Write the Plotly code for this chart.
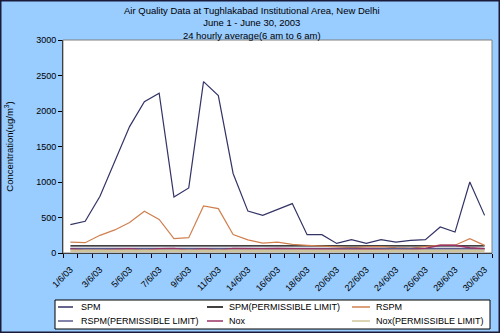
import plotly.graph_objects as go

dates = ["1/6/03", "2/6/03", "3/6/03", "4/6/03", "5/6/03", "6/6/03", "7/6/03", "8/6/03",
         "9/6/03", "10/6/03", "11/6/03", "13/6/03", "14/6/03", "15/6/03", "16/6/03",
         "17/6/03", "18/6/03", "19/6/03", "20/6/03", "21/6/03", "22/6/03", "23/6/03",
         "24/6/03", "25/6/03", "26/6/03", "27/6/03", "28/6/03", "29/6/03", "30/6/03"]

spm = [400, 446, 800, 1300, 1780, 2130, 2250, 790, 917, 2414, 2217, 1120, 590, 530, 616,
       696, 258, 258, 135, 188, 135, 188, 154, 178, 188, 366, 295, 1000, 530]
spm_limit = [100] * 29
rspm = [154, 145, 249, 325, 430, 588, 472, 202, 216, 663, 625, 260, 185, 140, 154,
        121, 107, 95, 80, 75, 85, 90, 75, 70, 90, 110, 110, 202, 107]
rspm_limit = [60] * 29
nox = [60, 40, 40, 55, 60, 40, 60, 65, 40, 60, 40, 65, 60, 60, 65, 60, 55, 50, 45, 50,
       55, 45, 40, 45, 65, 110, 110, 75, 60]
nox_limit = [30] * 29

tick_idx = list(range(0, 29, 2))
tick_text = [dates[i] for i in tick_idx]

FONT = "Liberation Sans, Arial, sans-serif"
x = list(range(len(dates)))

series = [
    ("SPM", spm, "#333366", 1.2),
    ("SPM(PERMISSIBLE LIMIT)", spm_limit, "#000000", 1.2),
    ("RSPM", rspm, "#D0804F", 1.2),
    ("RSPM(PERMISSIBLE LIMIT)", rspm_limit, "#5A5A8C", 2.2),
    ("Nox", nox, "#993366", 1.5),
    ("Nox(PERMISSIBLE LIMIT)", nox_limit, "#CFC59A", 2.5),
]

W, H = 500, 333
L, R, T, B = 63, 8, 40, 80
pw, ph = W - L - R, H - T - B


def px_x(p):
    return (p - L) / pw


def px_y(p):
    return (H - B - p) / ph


fig = go.Figure()
for name, vals, col, w in series:
    fig.add_trace(go.Scatter(x=x, y=vals, name=name, mode="lines",
                             line=dict(color=col, width=w),
                             customdata=[dates[i] for i in x],
                             hovertemplate="%{customdata}: %{y}<extra>" + name + "</extra>"))

shapes = [
    dict(type="rect", xref="paper", yref="paper", x0=0, x1=1, y0=0, y1=1,
         line=dict(color="#808080", width=1), fillcolor="rgba(0,0,0,0)", layer="above"),
    # legend box
    dict(type="rect", xref="paper", yref="paper",
         x0=px_x(55), x1=px_x(490), y0=px_y(329), y1=px_y(300),
         line=dict(color="#000000", width=1), fillcolor="#FFFFFF", layer="above"),
    # outer frame
    dict(type="rect", xref="paper", yref="paper",
         x0=-L / pw, x1=1 + R / pw, y0=-B / ph, y1=1 + T / ph,
         line=dict(color="#1A1A3A", width=3), fillcolor="rgba(0,0,0,0)", layer="above"),
]

annotations = [
    dict(text="Air Quality Data at Tughlakabad Institutional Area, New Delhi<br>June 1 - June 30, 2003<br>24 hourly average(6 am to 6 am)",
         xref="paper", yref="paper", x=px_x(252), y=px_y(3), xanchor="center", yanchor="top",
         showarrow=False, align="center", font=dict(family=FONT, size=9.5, color="#000000")),
]

col_line = [(58, 73), (207, 223), (352, 370)]
col_text = [79, 227, 374]
row_y = [307, 321]
for k, (name, vals, col, w) in enumerate(series):
    r, c = divmod(k, 3)
    shapes.append(dict(type="line", xref="paper", yref="paper",
                       x0=px_x(col_line[c][0]), x1=px_x(col_line[c][1]),
                       y0=px_y(row_y[r]), y1=px_y(row_y[r]),
                       line=dict(color=col, width=1.5), layer="above"))
    annotations.append(dict(text=name, xref="paper", yref="paper",
                            x=px_x(col_text[c]), y=px_y(row_y[r]),
                            xanchor="left", yanchor="middle", showarrow=False,
                            font=dict(family=FONT, size=9, color="#000000")))

fig.update_layout(
    width=W, height=H,
    margin=dict(l=L, r=R, t=T, b=B, pad=0),
    paper_bgcolor="#99CCFF",
    plot_bgcolor="#FFFFFF",
    font=dict(family=FONT, size=9, color="#000000"),
    showlegend=False,
    xaxis=dict(
        range=[-0.5, 28.5], automargin=False,
        tickmode="array", tickvals=tick_idx, ticktext=tick_text,
        tickangle=-45, ticks="outside", ticklen=7, tickcolor="rgba(0,0,0,0)",
        tickfont=dict(size=9),
        showgrid=False, zeroline=False,
        showline=True, linecolor="#000000", linewidth=1,
        minor=dict(tickmode="array", tickvals=[i - 0.5 for i in range(30)],
                   ticks="outside", ticklen=4, tickcolor="#000000", showgrid=False),
    ),
    yaxis=dict(
        range=[0, 3000], dtick=500, tick0=0, automargin=False,
        ticks="outside", ticklen=4, tickcolor="#000000",
        showgrid=False, zeroline=False,
        showline=True, linecolor="#000000", linewidth=1,
        tickfont=dict(size=9),
        title=dict(text="Concentration(ug/m<sup>3</sup>)", font=dict(size=9.5), standoff=20),
    ),
    shapes=shapes,
    annotations=annotations,
)

fig.write_html("out.html")
